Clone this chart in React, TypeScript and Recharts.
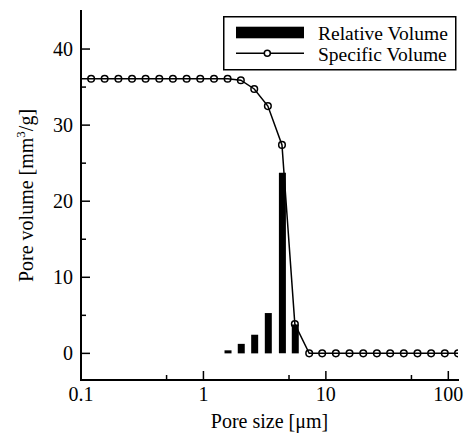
import React from 'react';
import { ComposedChart, Bar, Line, XAxis, YAxis, Legend } from 'recharts';

// Pore size steps [µm] (log spaced)
const poreSizes = [
  0.1, 0.121, 0.156, 0.202, 0.261, 0.337, 0.436, 0.563, 0.729, 0.942,
  1.22, 1.575, 2.02, 2.6, 3.36, 4.38, 5.58, 7.31, 9.33, 12.07,
  15.6, 20.2, 26.1, 33.5, 43.3, 56, 72.4, 93.6, 120,
];

// Cumulative specific volume [mm3/g]
const specificVolume = [
  36.1, 36.1, 36.1, 36.1, 36.1, 36.1, 36.1, 36.1, 36.1, 36.1,
  36.1, 36.1, 35.9, 34.75, 32.5, 27.4, 3.85, 0, 0, 0,
  0, 0, 0, 0, 0, 0, 0, 0, 0,
];

// Relative volume per step [mm3/g]
const relativeVolume = [
  null, null, null, null, null, null, null, null, null, null,
  null, 0.4, 1.25, 2.45, 5.3, 23.75, 3.8, null, null, null,
  null, null, null, null, null, null, null, null, null,
];

const xTicks = [0.1, 0.5, 1, 5, 10, 50, 100];
const xMajor = [0.1, 1, 10, 100];
const yTicks = [0, 5, 10, 15, 20, 25, 30, 35, 40];

const FONT = "'Liberation Serif'";
const txt = { fontFamily: FONT, fontSize: 20 };

const rows = poreSizes.map((size, i) => ({
  size,
  spec: specificVolume[i],
  rel: relativeVolume[i],
}));

// ticks point inwards, majors longer than minors
const BottomTick = ({ x, y, payload }: any) => {
  const major = xMajor.includes(payload.value);
  return (
    <g>
      <line x1={x} x2={x} y1={y} y2={y - (major ? 9 : 5)} stroke="#000" strokeWidth={1.5} />
      {major && (
        <text x={x} y={y + 21} textAnchor="middle" fontFamily={FONT} style={txt} fill="#000">
          {payload.value}
        </text>
      )}
    </g>
  );
};

const TopTick = ({ x, y, payload }: any) => {
  const major = xMajor.includes(payload.value);
  return <line x1={x} x2={x} y1={y} y2={y + (major ? 9 : 5)} stroke="#000" strokeWidth={1.5} />;
};

const LeftTick = ({ x, y, payload }: any) => {
  const major = payload.value % 10 === 0;
  return (
    <g>
      <line x1={x} x2={x + (major ? 9 : 5)} y1={y} y2={y} stroke="#000" strokeWidth={1.5} />
      {major && (
        <text x={x - 8} y={y + 7} textAnchor="end" fontFamily={FONT} style={txt} fill="#000">
          {payload.value}
        </text>
      )}
    </g>
  );
};

const RightTick = ({ x, y, payload }: any) => {
  const major = payload.value % 10 === 0;
  return <line x1={x} x2={x - (major ? 9 : 5)} y1={y} y2={y} stroke="#000" strokeWidth={1.5} />;
};

const XTitle = ({ viewBox }: any) => (
  <text x={viewBox.x + viewBox.width / 2} y={428} textAnchor="middle" fontFamily={FONT} style={txt} fill="#000">
    Pore size [μm]
  </text>
);

const YTitle = ({ viewBox }: any) => {
  const cy = viewBox.y + viewBox.height / 2;
  return (
    <text x={33} y={cy} transform={`rotate(-90 33 ${cy})`} textAnchor="middle" fontFamily={FONT} style={txt} fill="#000">
      <tspan>Pore volume [mm</tspan>
      <tspan dy={-8} style={{ fontSize: 13 }}>3</tspan>
      <tspan dy={8}>/g]</tspan>
    </text>
  );
};

const CircleDot = ({ cx, cy, index }: any) => {
  if (index === 0 || cx == null || cy == null) return null;
  return <circle key={index} cx={cx} cy={cy} r={3.3} fill="none" stroke="#000" strokeWidth={1.5} />;
};

const LegendBox = () => (
  <svg width={234} height={55} style={{ display: 'block' }}>
    <rect x={0.75} y={0.75} width={232} height={53} fill="#fff" stroke="#000" strokeWidth={1.5} />
    <rect x={13} y={10.7} width={68} height={11.6} fill="#000" />
    <line x1={13} x2={81} y1={37.3} y2={37.3} stroke="#000" strokeWidth={1.5} />
    <circle cx={44.3} cy={37.3} r={3} fill="#fff" stroke="#000" strokeWidth={1.5} />
    <text x={95} y={23.5} fontFamily={FONT} style={{ ...txt, fontSize: 19.5 }} fill="#000">Relative Volume</text>
    <text x={95} y={45} fontFamily={FONT} style={{ ...txt, fontSize: 19.5 }} fill="#000">Specific Volume</text>
  </svg>
);

const axisLine = { stroke: '#000', strokeWidth: 2, strokeLinecap: 'square' as const };

export default function App() {
  return (
    <div style={{ position: 'absolute', left: 0, top: 0, background: '#fff', fontFamily: FONT }}>
      <ComposedChart width={469} height={436} data={rows} margin={{ top: 11, right: 11, bottom: 0, left: 0 }}>
        <XAxis
          xAxisId="b"
          dataKey="size"
          type="number"
          scale="log"
          domain={[0.1, 120]}
          allowDataOverflow
          ticks={xTicks}
          interval={0}
          height={56}
          tickSize={0}
          tickMargin={0}
          tickLine={false}
          axisLine={axisLine}
          tick={<BottomTick />}
          label={<XTitle />}
        />
        <XAxis
          xAxisId="t"
          orientation="top"
          type="number"
          scale="log"
          domain={[0.1, 120]}
          allowDataOverflow
          ticks={xTicks}
          interval={0}
          height={0}
          tickSize={0}
          tickMargin={0}
          tickLine={false}
          axisLine={axisLine}
          tick={<TopTick />}
        />
        <YAxis
          yAxisId="l"
          type="number"
          domain={[-3.5, 45]}
          allowDataOverflow
          ticks={yTicks}
          interval={0}
          width={81}
          tickSize={0}
          tickMargin={0}
          tickLine={false}
          axisLine={axisLine}
          tick={<LeftTick />}
          label={<YTitle />}
        />
        <YAxis
          yAxisId="r"
          orientation="right"
          type="number"
          domain={[-3.5, 45]}
          allowDataOverflow
          ticks={yTicks}
          interval={0}
          width={0}
          tickSize={0}
          tickMargin={0}
          tickLine={false}
          axisLine={axisLine}
          tick={<RightTick />}
        />
        <Bar
          xAxisId="b"
          yAxisId="l"
          dataKey="rel"
          name="Relative Volume"
          fill="#000"
          barSize={7}
          isAnimationActive={false}
        />
        <Line
          xAxisId="b"
          yAxisId="l"
          type="linear"
          dataKey="spec"
          name="Specific Volume"
          stroke="#000"
          strokeWidth={1.5}
          dot={<CircleDot />}
          activeDot={false}
          isAnimationActive={false}
        />
        <Legend
          layout="horizontal"
          align="center"
          verticalAlign="middle"
          content={<LegendBox />}
          wrapperStyle={{ left: 223, top: 16, width: 234, height: 55 }}
        />
      </ComposedChart>
    </div>
  );
}
